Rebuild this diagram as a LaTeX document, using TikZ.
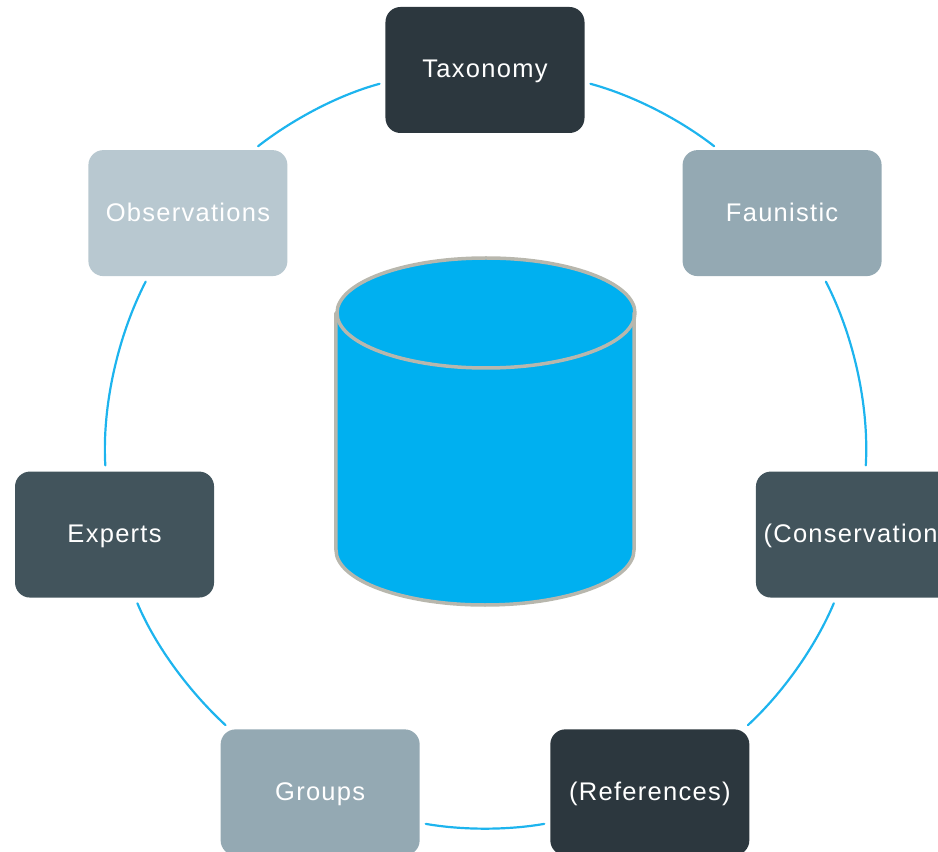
\documentclass[tikz,border=0pt]{standalone}
\usepackage{fontspec}
\setmainfont{Liberation Sans}[LetterSpace=5]
\usepackage{tikz}
\usetikzlibrary{arrows}

\definecolor{boxdark}{HTML}{2C373E}
\definecolor{boxmid}{HTML}{42545C}
\definecolor{boxgrey}{HTML}{94A9B3}
\definecolor{boxlight}{HTML}{B8C8D0}
\definecolor{ringblue}{HTML}{1DB4EE}
\definecolor{dbblue}{HTML}{00B0F0}
\definecolor{dbrim}{HTML}{B8B7AD}

\tikzset{
  itembox/.style={rectangle,rounded corners=15bp,minimum width=199bp,minimum height=126bp,
    inner sep=0pt,text height=16bp,text depth=0pt,text=white,font=\fontsize{25.5bp}{30bp}\selectfont},
  ring/.style={color=ringblue,line width=2.2bp,looseness=0.85,shorten >=6bp,shorten <=6bp}
}

\begin{document}
\begin{tikzpicture}[line cap=round,line join=round,x=1bp,y=1bp]
    \useasboundingbox (-485,-402) rectangle (453,450);
    % items round the ring
    \foreach \ang/\nm/\txt/\col in {90/tax/Taxonomy/boxdark,38.57/faun/Faunistic/boxgrey,
      -12.86/cons/(Conservation)/boxmid,-64.29/refs/(References)/boxdark,
      -115.71/grps/Groups/boxgrey,-167.14/expt/Experts/boxmid,141.43/obs/Observations/boxlight}
    \node[itembox,fill=\col] (\nm) at (\ang:380) {\txt};
    % ring segments, on the circle of radius 380
    \draw[ring] (tax.-7.61) to[out=-15.18,in=142.1] (faun.135.3);
    \draw[ring] (faun.-57.07) to[out=-62.8,in=86.74] (cons.81.96);
    \draw[ring] (cons.-107.86) to[out=-112.85,in=42.7] (refs.34.17);
    \draw[ring] (refs.197.78) to[out=-170.1,in=-9.9] (grps.-17.78);
    \draw[ring] (grps.145.83) to[out=137.3,in=-67.15] (expt.-72.14);
    \draw[ring] (expt.98.04) to[out=93.26,in=242.8] (obs.-122.93);
    \draw[ring] (obs.44.7) to[out=37.9,in=195.18] (tax.187.61);
    % database
    \fill[color=dbblue] (-149,137) -- (-149,-100) arc (180:360:149 and 55) -- (149,137) arc (0:180:149 and 55);
    \draw[color=dbrim,line width=3.5bp] (-149,137) -- (-149,-100) arc (180:360:149 and 55) -- (149,137);
    \draw[color=dbrim,line width=3.5bp] (1,137) ellipse (149 and 55);
\end{tikzpicture}
\end{document}
